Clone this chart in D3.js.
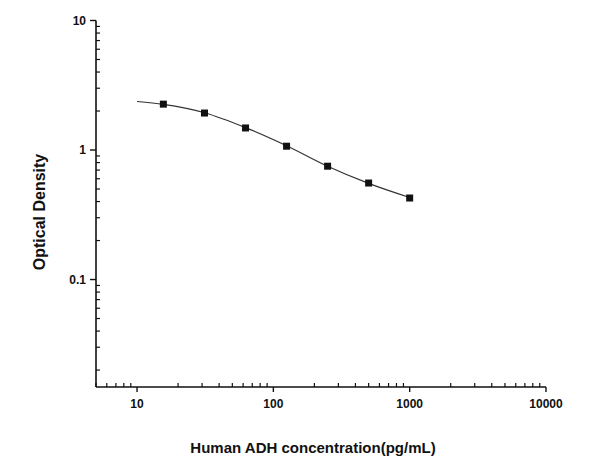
<!DOCTYPE html>
<html>
<head>
<meta charset="utf-8">
<script src="https://cdn.jsdelivr.net/npm/d3@7"></script>
<style>
  body { margin: 0; background: #fff; }
  svg text { font-family: "Liberation Sans", Arial, sans-serif; font-weight: bold; fill: #111; }
</style>
</head>
<body>
<svg id="chart" width="600" height="466"></svg>
<script>
// standard concentrations (pg/mL) and measured OD
const concentrations = [15.6, 31.25, 62.5, 125, 250, 500, 1000];
const opticalDensity = [2.26, 1.93, 1.48, 1.07, 0.75, 0.556, 0.426];

// fitted curve
const fitConc = [10, 15.6, 31.25, 62.5, 125, 250, 500, 1000];
const fitOD = [2.37, 2.25, 1.94, 1.49, 1.08, 0.75, 0.553, 0.43];

const xTickValues = [10, 100, 1000, 10000];
const yTickValues = [0.1, 1, 10];

const svg = d3.select("#chart");

const x = d3.scaleLog().domain([5, 10000]).range([96, 546]);
const y = d3.scaleLog().domain([0.0148, 10]).range([387, 20.5]);

// minor ticks (inside)
const xMinor = [];
for (let d = 1; d <= 1000; d *= 10) for (let k = 1; k <= 9; k++) {
  const v = d * k;
  if (v >= 5 && v <= 10000 && !xTickValues.includes(v)) xMinor.push(v);
}
const yMinor = [];
for (let d = 0.01; d <= 1.001; d *= 10) for (let k = 1; k <= 9; k++) {
  const v = +(d * k).toPrecision(3);
  if (v >= 0.0148 && v <= 10 && !yTickValues.includes(v)) yMinor.push(v);
}

const axisG = svg.append("g").attr("stroke", "#111");

axisG.selectAll("line.xminor").data(xMinor).enter().append("line")
  .attr("x1", d => x(d)).attr("x2", d => x(d))
  .attr("y1", 387).attr("y2", 383).attr("stroke-width", 1.2);
axisG.selectAll("line.yminor").data(yMinor).enter().append("line")
  .attr("y1", d => y(d)).attr("y2", d => y(d))
  .attr("x1", 96).attr("x2", 100).attr("stroke-width", 1.2);

// major ticks (outside)
axisG.selectAll("line.xmajor").data(xTickValues).enter().append("line")
  .attr("x1", d => x(d)).attr("x2", d => x(d))
  .attr("y1", 387).attr("y2", 392).attr("stroke-width", 1.4);
axisG.selectAll("line.ymajor").data(yTickValues).enter().append("line")
  .attr("y1", d => y(d)).attr("y2", d => y(d))
  .attr("x1", 96).attr("x2", 90).attr("stroke-width", 1.4);

// axis lines
axisG.append("line").attr("x1", 96).attr("x2", 96)
  .attr("y1", y(10)).attr("y2", 387).attr("stroke-width", 1.6);
axisG.append("line").attr("x1", 96).attr("x2", x(10000))
  .attr("y1", 387).attr("y2", 387).attr("stroke-width", 1.6);

// tick labels
svg.selectAll("text.xt").data(xTickValues).enter().append("text")
  .attr("x", d => x(d)).attr("y", 408)
  .attr("text-anchor", "middle").attr("font-size", 12)
  .text(d => d);
svg.selectAll("text.yt").data(yTickValues).enter().append("text")
  .attr("x", 86).attr("y", d => y(d) + 4)
  .attr("text-anchor", "end").attr("font-size", 12)
  .text(d => d);

// fitted curve
const line = d3.line()
  .x((d, i) => x(fitConc[i]))
  .y(d => y(d))
  .curve(d3.curveMonotoneX);
svg.append("path").datum(fitOD)
  .attr("d", line)
  .attr("fill", "none")
  .attr("stroke", "#333")
  .attr("stroke-width", 1.2);

// markers
svg.selectAll("rect.pt").data(opticalDensity).enter().append("rect")
  .attr("x", (d, i) => x(concentrations[i]) - 3.5)
  .attr("y", d => y(d) - 3.5)
  .attr("width", 7).attr("height", 7)
  .attr("fill", "#111");

// axis titles
svg.append("text")
  .attr("x", 313).attr("y", 453)
  .attr("text-anchor", "middle").attr("font-size", 15)
  .text("Human ADH concentration(pg/mL)");
svg.append("text")
  .attr("transform", "translate(45,212) rotate(-90)")
  .attr("text-anchor", "middle").attr("font-size", 16)
  .text("Optical Density");
</script>
</body>
</html>
